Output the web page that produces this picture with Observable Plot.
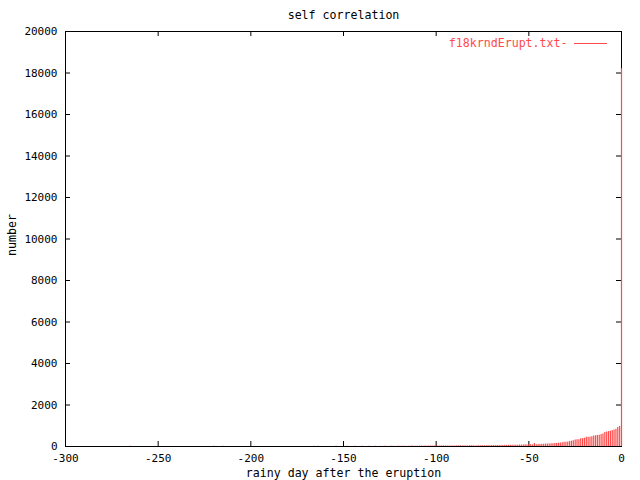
<!DOCTYPE html>
<html>
<head>
<meta charset="utf-8">
<script src="https://cdn.jsdelivr.net/npm/d3@7"></script>
<script src="https://cdn.jsdelivr.net/npm/@observablehq/plot@0.6"></script>
<style>
  html, body { margin: 0; padding: 0; background: #fff; }
  #chart svg { display: block; }
</style>
</head>
<body>
<div id="chart"></div>
<script>
const title = "self correlation";
const xLabel = "rainy day after the eruption";
const yLabel = "number";
const seriesName = "f18krndErupt.txt-";

// sparse early values (day, count)
const sparseDays = [-265, -220, -215, -166, -164, -154, -148, -144, -140, -136, -133];
const sparseCounts = [10, 10, 10, 10, 10, 15, 15, 15, 10, 12, 10];

// contiguous values for days -130 .. 0
const denseStart = -130;
const denseCounts = [
  8, 0, 12, 10, 0, 15, 10, 12, 0, 14,
  15, 12, 10, 18, 0, 15, 14, 20, 12, 16,
  18, 15, 20, 17, 22, 14, 20, 24, 18, 20,
  22, 25, 20, 24, 28, 22, 26, 24, 30, 28,
  25, 30, 28, 32, 26, 34, 30, 28, 35, 32,
  36, 30, 38, 34, 40, 36, 42, 38, 45, 40,
  44, 48, 42, 50, 46, 52, 48, 55, 50, 58,
  55, 62, 58, 65, 60, 70, 66, 75, 90, 70,
  80, 85, 78, 145, 90, 95, 100, 105, 110, 115,
  120, 125, 135, 130, 145, 150, 160, 170, 185, 200,
  210, 220, 240, 260, 280, 310, 320, 330, 370, 380,
  400, 440, 450, 450, 470, 510, 520, 530, 540, 580,
  600, 680, 700, 720, 740, 770, 800, 830, 920, 960,
  18200
];

const xTicks = [-300, -250, -200, -150, -100, -50, 0];
const yTicks = [0, 2000, 4000, 6000, 8000, 10000, 12000, 14000, 16000, 18000, 20000];

const data = [];
sparseDays.forEach((d, i) => data.push({day: d, count: sparseCounts[i]}));
denseCounts.forEach((c, i) => { if (c > 0) data.push({day: denseStart + i, count: c}); });

const red = "#ff4a4a";
const W = 640, H = 480;
const mL = 65, mR = 19, mT = 31, mB = 34;
const fw = W - mL - mR, fh = H - mT - mB;
const tick = 5;
const labelSize = 11.6;
const tickSize = 11;

const chart = Plot.plot({
  width: W, height: H,
  marginLeft: mL, marginRight: mR, marginTop: mT, marginBottom: mB,
  style: {fontFamily: "'DejaVu Sans Mono', monospace", fontSize: "11px", color: "#000", background: "#fff"},
  x: {domain: [-300, 0], axis: null, label: null},
  y: {domain: [0, 20000], axis: null, label: null},
  marks: [
    // inward ticks, bottom and top
    Plot.ruleX(xTicks, {stroke: "#000", insetTop: fh - tick}),
    Plot.ruleX(xTicks, {stroke: "#000", insetBottom: fh - tick}),
    // inward ticks, left and right
    Plot.ruleY(yTicks, {stroke: "#000", insetRight: fw - tick}),
    Plot.ruleY(yTicks, {stroke: "#000", insetLeft: fw - tick}),
    Plot.frame({stroke: "#000"}),
    Plot.ruleX(data, {x: "day", y1: 0, y2: "count", stroke: red, strokeWidth: 1.2}),
    Plot.axisX(xTicks, {tickSize: 0, tickPadding: 8, fontSize: tickSize, fill: "#000", label: null, tickFormat: d => String(d)}),
    Plot.axisY(yTicks, {tickSize: 0, tickPadding: 8, fontSize: tickSize, fill: "#000", label: null, tickFormat: d => String(d)}),
    Plot.text([title], {frameAnchor: "top", dy: -16, lineAnchor: "middle", fontSize: labelSize, fill: "#000"}),
    Plot.text([xLabel], {frameAnchor: "bottom", dy: 27, lineAnchor: "middle", fontSize: labelSize, fill: "#000"}),
    Plot.text([yLabel], {frameAnchor: "left", dx: -53, dy: -4, rotate: -90, textAnchor: "middle", lineAnchor: "middle", fontSize: labelSize, fill: "#000"}),
    Plot.text([seriesName], {frameAnchor: "top-right", dx: -54, dy: 12, lineAnchor: "middle", textAnchor: "end", fontSize: labelSize, fill: red}),
    Plot.ruleY([20000], {stroke: red, dy: 12, insetLeft: 509, insetRight: 14})
  ]
});
document.getElementById("chart").appendChild(chart);
</script>
</body>
</html>
